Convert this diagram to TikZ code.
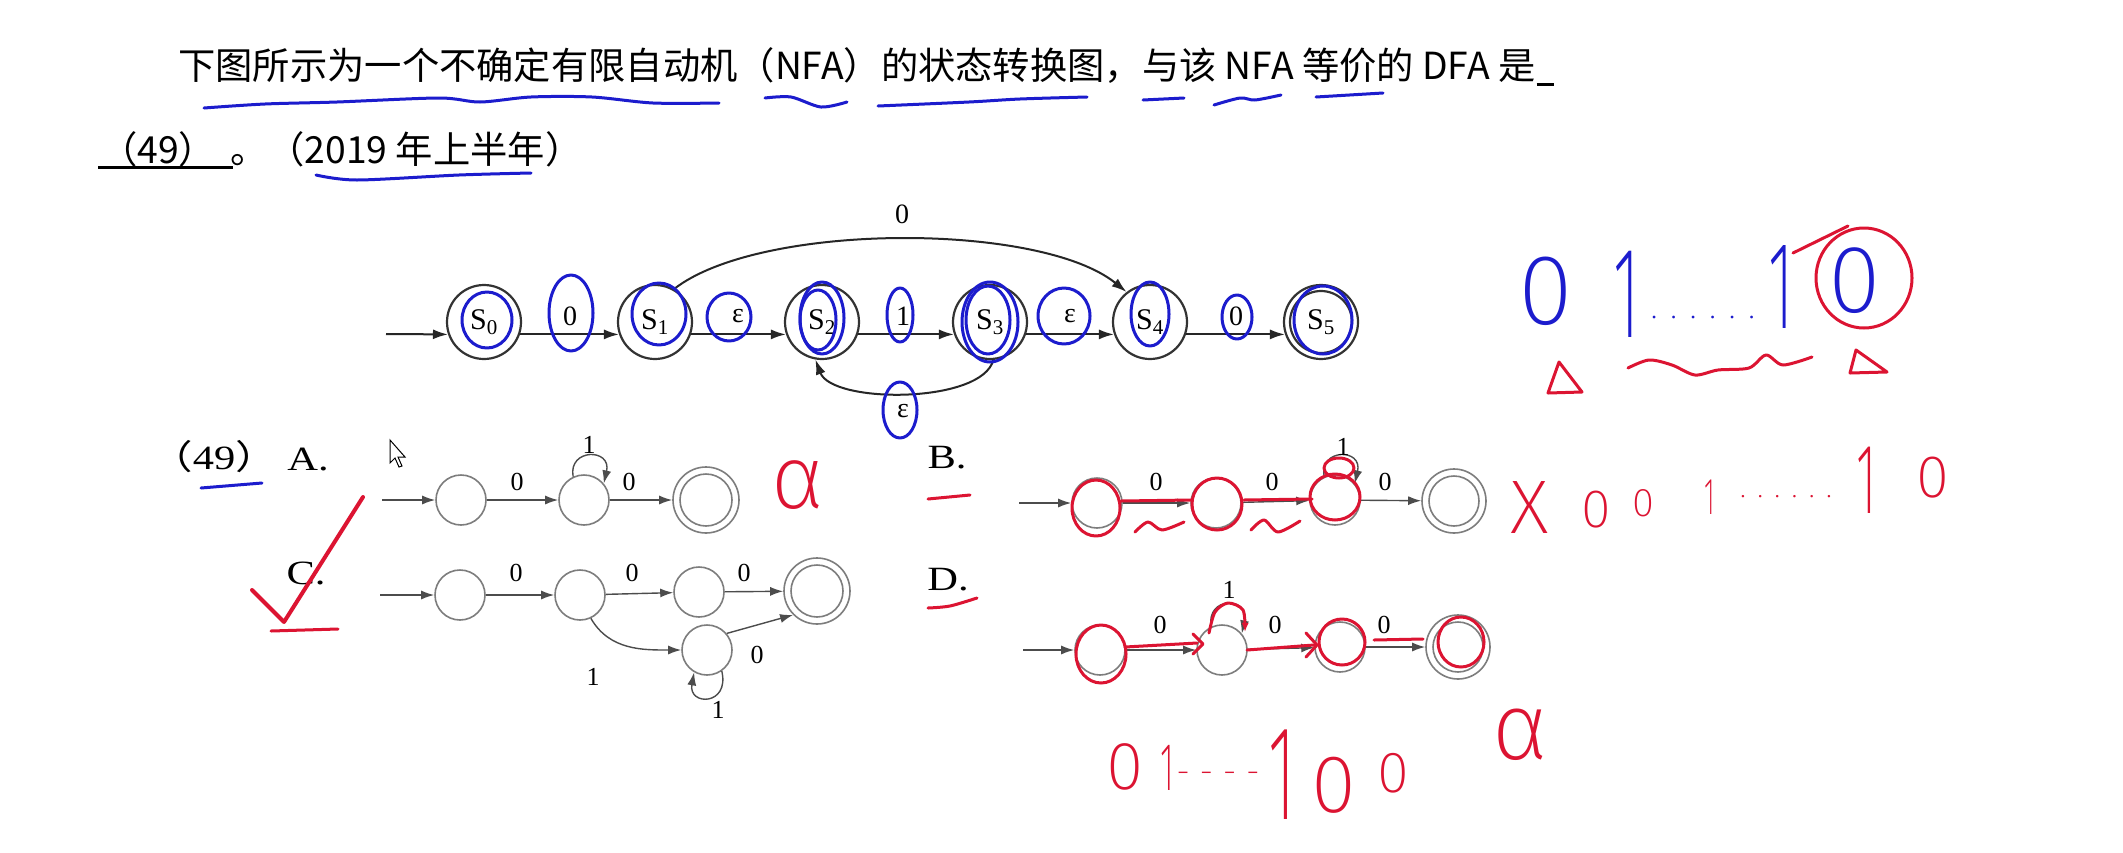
\documentclass[tikz,border=0pt]{standalone}
\usepackage{fontspec}
\setmainfont{Liberation Serif}
\newfontfamily\cjk{Noto Sans CJK SC}
\IfFontExistsTF{Fira Sans ExtraLight}{\newfontfamily\hand{Fira Sans ExtraLight}}{%
  \IfFontExistsTF{Fira Sans Light}{\newfontfamily\hand{Fira Sans Light}}{\newfontfamily\hand{Fira Sans}}}
\usetikzlibrary{arrows.meta,calc}
\newcommand\fsz[1]{\fontsize{#1}{#1}\selectfont}
\newcommand\narrow[1]{\scalebox{0.5}[1]{#1}}
\newcommand\widen[1]{\scalebox{1.25}[1]{#1}}
\definecolor{pen}{RGB}{28,28,205}
\definecolor{ink}{RGB}{220,20,50}
\definecolor{gr}{RGB}{125,125,125}
\begin{document}
\begin{tikzpicture}[x=1pt,y=-1pt,
  mst/.style={circle,draw=black!80,line width=2.2pt,minimum size=74pt,inner sep=0pt,font=\fsz{30}},
  mar/.style={line width=2pt,draw=black!85,-{Latex[length=15pt,width=10pt]}},
  mlab/.style={font=\fsz{28},inner sep=0pt},
  ost/.style={circle,draw=gr,line width=1.6pt,minimum size=50pt,inner sep=0pt},
  ofin/.style={circle,draw=gr,line width=1.6pt,minimum size=66pt,inner sep=0pt},
  oar/.style={line width=1.4pt,draw=black!70,-{Latex[length=13pt,width=9pt]}},
  olab/.style={font=\fsz{26},inner sep=0pt},
  optl/.style={inner sep=0pt,font=\fsz{34}},
  bl/.style={draw=pen,line width=3pt,line cap=round,line join=round},
  rd/.style={draw=ink,line width=3pt,line cap=round,line join=round},
  hb/.style={text=pen,inner sep=0pt},
  hr/.style={text=ink,inner sep=0pt},
  ]
\useasboundingbox (0,0) rectangle (2123,852);
\fill[white] (0,0) rectangle (2123,852);

% ---------- question text ----------
\node[anchor=west,inner sep=0pt,font=\cjk\fsz{37.3}] (q1) at (178,66) {下图所示为一个不确定有限自动机（NFA）的状态转换图，与该 NFA 等价的 DFA 是};
\draw[line width=3pt] ($(q1.base east)+(1,5)$) -- ++(17,0);
\node[anchor=west,inner sep=0pt,font=\cjk\fsz{37.3}] (q2a) at (100,149) {（49）};
\node[anchor=west,inner sep=0pt,font=\cjk\fsz{37.3}] (q2b) at (230,149) {。（2019 年上半年）};
\draw[line width=3pt] (98,167) -- (233,167);

% blue underlines
\draw[bl] plot[smooth] coordinates {(204,108) (265,104) (337,102) (439,98) (480,102) (531,97) (592,97) (653,103) (719,103)};
\draw[bl] plot[smooth] coordinates {(765,98) (791,97) (821,107) (847,102)};
\draw[bl] plot[smooth] coordinates {(878,106) (969,102) (1020,99) (1087,97)};
\draw[bl] (1143,100) -- (1184,98);
\draw[bl] plot[smooth] coordinates {(1214,105) (1240,98) (1255,100) (1281,95)};
\draw[bl] (1316,97) -- (1383,93);
\draw[bl] plot[smooth] coordinates {(316,175) (357,180) (459,175) (531,173)};

% ---------- main NFA ----------
\node[mst] (S0) at (484,322) {S\textsubscript{0}};
\node[mst] (S1) at (655,322) {S\textsubscript{1}};
\node[mst] (S2) at (822,322) {S\textsubscript{2}};
\node[mst] (S3) at (990,322) {S\textsubscript{3}};
\node[mst] (S4) at (1150,322) {S\textsubscript{4}};
\node[mst] (S5) at (1321,322) {S\textsubscript{5}};
\draw[draw=black!80,line width=2.2pt] (S5) circle[radius=31];
\coordinate (m0) at (386,334);
\draw[mar] (m0) -- (S0.199);
\draw[mar] (S0.-19) -- (S1.199);
\draw[mar] (S1.-19) -- (S2.199);
\draw[mar] (S2.-19) -- (S3.199);
\draw[mar] (S3.-19) -- (S4.199);
\draw[mar] (S4.-19) -- (S5.199);
\draw[mar] (S1.60) .. controls (760,222) and (1040,222) .. (S4.128);
\draw[mar] (S3.-85) .. controls (982,404) and (832,404) .. (S2.-100);
\node[mlab] (l01) at (570,316) {0};
\node[mlab] (l12) at (738,316) {ε};
\node[mlab] (l23) at (903,316) {1};
\node[mlab] (l34) at (1070,316) {ε};
\node[mlab] (l45) at (1236,316) {0};
\node[mlab] (l14) at (902,214) {0};
\node[mlab] (l32) at (903,411) {ε};

% blue annotations on NFA
\draw[bl] (487,320) ellipse[x radius=25,y radius=28];
\draw[bl] (571,313) ellipse[x radius=22,y radius=38];
\draw[bl] (659,314) ellipse[x radius=27,y radius=31];
\draw[bl] (729,317) ellipse[x radius=22,y radius=24];
\draw[bl] (822,318) ellipse[x radius=22,y radius=36];
\draw[bl] (818,320) ellipse[x radius=18,y radius=30];
\draw[bl] (900,315) ellipse[x radius=13,y radius=27];
\draw[bl] (990,322) ellipse[x radius=28,y radius=40];
\draw[bl] (988,320) ellipse[x radius=22,y radius=34];
\draw[bl] (1064,316) ellipse[x radius=26,y radius=28];
\draw[bl] (1150,314) ellipse[x radius=19,y radius=32];
\draw[bl] (1237,317) ellipse[x radius=15,y radius=22];
\draw[bl] (1323,320) ellipse[x radius=29,y radius=34];
\draw[bl] (900,410) ellipse[x radius=17,y radius=28];

% ---------- right handwriting ----------
\node[hb,font=\hand\fsz{100}] (h1) at (1546,291) {0};
\node[hb,font=\hand\fsz{130}] (h2) at (1627,294) {\narrow{1}};
\node[hb,font=\hand\fsz{34}] (h3) at (1703,318) {. . . . . .};
\node[hb,font=\hand\fsz{125}] (h4) at (1781,287) {\narrow{1}};
\node[hb,font=\hand\fsz{96}] (h5) at (1855,281) {0};
\draw[rd] (1864,278) ellipse[x radius=48,y radius=50];
\draw[rd] (1793,253) -- (1848,226);
\draw[rd] (1559,362) -- (1548,393) -- (1582,392) -- cycle;
\draw[rd] (1856,350) -- (1850,373) -- (1887,372) -- cycle;
\draw[rd] plot[smooth] coordinates {(1628,368) (1649,360) (1672,365) (1695,375) (1718,370) (1749,368) (1766,355) (1783,365) (1812,357)};

% ---------- options ----------
\node[optl] (o49) at (214,457) {\widen{{\cjk （}49{\cjk ）}}};
\node[optl] (oA) at (308,460) {\widen{A.}};
\node[optl] (oB) at (947,458) {\widen{B.}};
\node[optl] (oC) at (306,573) {\widen{C.}};
\node[optl] (oD) at (948,580) {\widen{D.}};
\draw[bl] (201,488) -- (262,483);
% cursor
\draw[line width=1pt,fill=white] (390,440) -- (390,463) -- (395,458) -- (399,467) -- (402,466) -- (398,457) -- (405,457) -- cycle;

% A
\node[ost] (a1) at (461,500) {};
\node[ost] (a2) at (584,500) {};
\node[ofin] (a3) at (706,500) {};
\draw[draw=gr,line width=1.6pt] (a3) circle[radius=26];
\coordinate (a0) at (382,500);
\draw[oar] (a0) -- (a1);
\draw[oar] (a1) -- (a2);
\draw[oar] (a2) -- (a3);
\draw[oar] (a2.115) .. controls (568,448) and (612,448) .. (a2.40);
\node[olab] (la1) at (517,482) {0};
\node[olab] (la2) at (589,445) {1};
\node[olab] (la3) at (629,482) {0};
\node[hr,font=\hand\fsz{90}] (ra) at (798,485) {α};

% C
\node[ost] (c1) at (460,595) {};
\node[ost] (c2) at (580,595) {};
\node[ost] (c3) at (699,592) {};
\node[ofin] (c4) at (817,591) {};
\draw[draw=gr,line width=1.6pt] (c4) circle[radius=26];
\node[ost] (c5) at (707,650) {};
\coordinate (c0) at (380,595);
\draw[oar] (c0) -- (c1);
\draw[oar] (c1) -- (c2);
\draw[oar] (c2) -- (c3);
\draw[oar] (c3) -- (c4);
\draw[oar] (c2.-65) to[out=-60,in=180] (c5.west);
\draw[oar] (c5.40) -- (c4.-135);
\draw[oar] (c5.-55) .. controls (730,706) and (688,706) .. (c5.-120);
\node[olab] (lc1) at (516,573) {0};
\node[olab] (lc2) at (632,573) {0};
\node[olab] (lc3) at (744,573) {0};
\node[olab] (lc4) at (593,677) {1};
\node[olab] (lc5) at (757,655) {0};
\node[olab] (lc6) at (718,710) {1};
\draw[rd,line width=4pt] (252,590) -- (284,622) -- (363,497);
\draw[rd] (271,631) -- (338,629);

% B
\node[ost] (b1) at (1097,503) {};
\node[ost] (b2) at (1216,503) {};
\node[ost] (b3) at (1335,500) {};
\node[ofin,minimum size=64pt] (b4) at (1454,501) {};
\draw[draw=gr,line width=1.6pt] (b4) circle[radius=25];
\coordinate (b0) at (1019,503);
\draw[oar] (b0) -- (b1);
\draw[oar] (b1) -- (b2);
\draw[oar] (b2) -- (b3);
\draw[oar] (b3) -- (b4);
\draw[oar] (b3.115) .. controls (1319,448) and (1363,448) .. (b3.40);
\node[olab] (lb1) at (1156,482) {0};
\node[olab] (lb2) at (1272,482) {0};
\node[olab] (lb3) at (1385,482) {0};
\node[olab] (lb4) at (1343,447) {1};
\draw[rd] (928,499) -- (970,495);
\draw[rd] (1096,508) ellipse[x radius=24,y radius=28];
\draw[rd] (1217,504) ellipse[x radius=25,y radius=26];
\draw[rd] (1335,497) ellipse[x radius=25,y radius=23];
\draw[rd] (1339,468) ellipse[x radius=15,y radius=10];
\draw[rd] (1121,501) -- (1192,500);
\draw[rd] (1244,500) -- (1312,499);
\draw[rd] plot[smooth] coordinates {(1135,532) (1148,522) (1162,530) (1184,522)};
\draw[rd] plot[smooth] coordinates {(1251,530) (1264,520) (1278,532) (1300,521)};
\node[hr,font=\hand\fsz{76}] (rx) at (1530,507) {X};
\node[hr,font=\hand\fsz{54}] (r1) at (1596,510) {0};
\node[hr,font=\hand\fsz{40}] (r2) at (1643,503) {0};
\node[hr,font=\hand\fsz{52}] (r3) at (1710,497) {\narrow{1}};
\node[hr,font=\hand\fsz{30}] (r4) at (1786,497) {. . . . . .};
\node[hr,font=\hand\fsz{100}] (r5) at (1867,480) {\narrow{1}};
\node[hr,font=\hand\fsz{60}] (r6) at (1933,478) {0};

% D
\node[ost] (d1) at (1100,650) {};
\node[ost] (d2) at (1222,650) {};
\node[ost] (d3) at (1340,647) {};
\node[ofin,minimum size=64pt] (d4) at (1458,647) {};
\draw[draw=gr,line width=1.6pt] (d4) circle[radius=25];
\coordinate (d0) at (1023,650);
\draw[oar] (d0) -- (d1);
\draw[oar] (d1) -- (d2);
\draw[oar] (d2) -- (d3);
\draw[oar] (d3) -- (d4);
\draw[oar] (d2.115) .. controls (1206,596) and (1250,596) .. (d2.40);
\node[olab] (ld1) at (1160,625) {0};
\node[olab] (ld2) at (1275,625) {0};
\node[olab] (ld3) at (1384,625) {0};
\node[olab] (ld4) at (1229,590) {1};
\draw[rd] plot[smooth] coordinates {(928,608) (950,606) (977,598)};
\draw[rd] (1101,654) ellipse[x radius=25,y radius=29];
\draw[rd] (1342,642) ellipse[x radius=23,y radius=23];
\draw[rd] (1461,642) ellipse[x radius=23,y radius=25];
\draw[rd,-{Latex[length=9pt,width=7pt]}] plot[smooth] coordinates {(1209,633) (1215,612) (1228,603) (1243,610) (1245,632)};
\draw[rd] (1125,647) -- (1197,643);
\draw[rd] (1247,650) -- (1314,645);
\draw[rd] (1374,640) -- (1423,639);
\draw[rd] (1193,634) -- (1203,644) -- (1193,654);
\draw[rd] (1306,633) -- (1317,645) -- (1306,657);

% bottom handwriting
\node[hr,font=\hand\fsz{68}] (w1) at (1125,767) {0};
\node[hr,font=\hand\fsz{68}] (w2) at (1167,768) {\narrow{1}};
\node[hr,font=\hand\fsz{34}] (w3) at (1218,778) {- - - -};
\node[hr,font=\hand\fsz{135}] (w4) at (1282,775) {\narrow{1}};
\node[hr,font=\hand\fsz{82}] (w5) at (1334,785) {0};
\node[hr,font=\hand\fsz{58}] (w6) at (1393,773) {0};
\node[hr,font=\hand\fsz{95}] (w7) at (1520,735) {α};
\end{tikzpicture}
\end{document}
